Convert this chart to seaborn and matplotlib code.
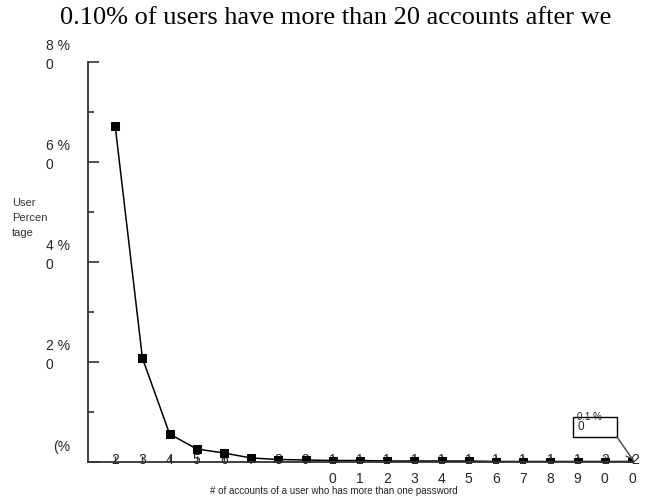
import matplotlib
matplotlib.use("Agg")
import matplotlib.pyplot as plt
from matplotlib import transforms
from matplotlib.patches import Rectangle
from matplotlib.ticker import MultipleLocator
import numpy as np
import pandas as pd
import seaborn as sns

# Number of accounts per user (sharing more than one password)
account_counts = ["2", "3", "4", "5", "6", "7", "8", "9", "10", "11", "12",
                  "13", "14", "15", "16", "17", "18", "19", "20", ">20"]
x_tick_labels = ["2", "3", "4", "5", "6", "7", "8", "9",
                 "1\n0", "1\n1", "1\n2", "1\n3", "1\n4", "1\n5", "1\n6",
                 "1\n7", "1\n8", "1\n9", "2\n0", ">2\n0"]
# Share of users (%)
user_pct = [67.2, 20.8, 5.6, 2.6, 1.8, 0.8, 0.5, 0.4, 0.3, 0.3,
            0.2, 0.2, 0.2, 0.2, 0.1, 0.1, 0.1, 0.1, 0.1, 0.1]
y_ticks = [0, 20, 40, 60, 80]
y_tick_labels = ["(%\n ", "2 %\n0", "4 %\n0", "6 %\n0", "8 %\n0"]

title_text = "0.10% of users have more than 20 accounts after we"
x_label = "# of accounts of a user who has more than one password"
y_label = "User\nPercen\ntage"
note_top = "0.1 %"
note_inner = "0"

sns.set_style("ticks")
plt.rcParams["font.family"] = ["Liberation Sans", "DejaVu Sans"]

df = pd.DataFrame({"pos": np.arange(len(account_counts)),
                   "accounts": account_counts,
                   "pct": user_pct})

W, H = 646, 500
fig = plt.figure(figsize=(W / 100, H / 100), dpi=100)
ax = fig.add_axes([88 / W, 38 / H, 544 / W, 400 / H])

sns.lineplot(data=df, x="pos", y="pct", ax=ax, color="black", linewidth=1.1,
             marker="s", markersize=5.5, markeredgecolor="black",
             markerfacecolor="black")

ax.set_xlim(-1, len(account_counts) - 1)
ax.set_ylim(0, 80)
ax.set_xlabel("")
ax.set_ylabel("")

text_color = "#262626"
spine_color = "#333333"

# y axis: inward ticks, two-line labels sitting above each tick
ax.set_yticks(y_ticks)
ax.set_yticklabels(y_tick_labels, fontsize=10, color=text_color,
                   multialignment="left", linespacing=1.4)
ax.yaxis.set_minor_locator(MultipleLocator(10))
ax.tick_params(axis="y", which="major", direction="in", length=8, width=1.2,
               color=spine_color, pad=13)
ax.tick_params(axis="y", which="minor", direction="in", length=4, width=1.2,
               color=spine_color)
shift = transforms.ScaledTranslation(0, 10 / 100, fig.dpi_scale_trans)
for lab in ax.get_yticklabels():
    lab.set_transform(lab.get_transform() + shift)

# x axis: labels straddle the axis line
ax.set_xticks(df["pos"])
ax.set_xticklabels(x_tick_labels, fontsize=10, color=text_color,
                   linespacing=1.45)
ax.tick_params(axis="x", direction="in", length=4, width=1.0,
               color=spine_color, pad=-6.5)

for side in ("top", "right"):
    ax.spines[side].set_visible(False)
for side in ("left", "bottom"):
    ax.spines[side].set_color(spine_color)
    ax.spines[side].set_linewidth(1.3)

# callout box for the last category, laid out in pixels from its point
fig.canvas.draw()
last_x, last_y = df["pos"].iloc[-1], df["pct"].iloc[-1]
px, py = ax.transData.transform((last_x, last_y))
box = Rectangle((px - 59, py + 24.5), 44, 20, fill=False, edgecolor="black",
                linewidth=1.0, transform=None, clip_on=False)
fig.add_artist(box)
fig.text((px - 55) / W, (py + 34) / H, note_inner, fontsize=8.5,
         color=text_color, ha="left", va="center")
fig.text((px - 55) / W, (py + 45) / H, note_top, fontsize=7,
         color=text_color, ha="left", va="center")
fig.add_artist(plt.Line2D([(px - 15) / W, (px + 2) / W],
                          [(py + 24.5) / H, py / H],
                          color="#444444", linewidth=1.0))

fig.text(336 / W, 1 - 24 / H, title_text, family="Liberation Serif",
         fontsize=19, ha="center", va="baseline", color="black")
fig.text(334 / W, 1 - 491 / H, x_label, fontsize=7, ha="center",
         va="center", color=text_color)
fig.text(12 / W, 1 - 198 / H, y_label, fontsize=8, ha="left", va="top",
         color="#3a3030", linespacing=1.6)

fig.savefig("out.png", dpi=100)
